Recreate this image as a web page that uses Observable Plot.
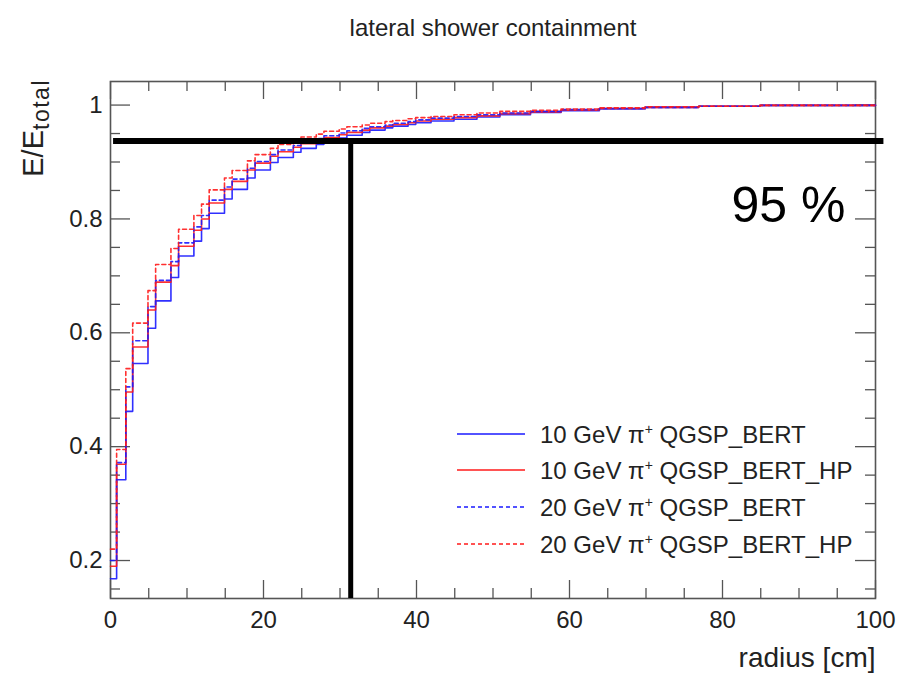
<!DOCTYPE html>
<html><head><meta charset="utf-8">
<script src="https://cdn.jsdelivr.net/npm/d3@7"></script>
<script src="https://cdn.jsdelivr.net/npm/@observablehq/plot@0.6"></script>
<style>
body{margin:0;background:#fff;}
#chart svg{display:block;font-family:"Liberation Sans",Arial,sans-serif;}
</style></head><body><div id="chart"></div>
<script>
// ---- data ----
const binEdges = [0, 0.8, 2, 2.9, 4.9, 5.9, 7.9, 8.9, 10.9, 11.9, 12.9, 14.9, 15.9, 17.9, 18.9, 20.9, 21.9, 23.9, 24.9, 26.9, 27.9, 29.9, 30.9, 32.9, 33.9, 35.9, 36.9, 38.9, 39.9, 41.9, 44.9, 47.9, 50.9, 54.9, 58.9, 63.9, 69.9, 76.9, 84.9, 100];
const bert10 = [0.168, 0.342, 0.462, 0.546, 0.608, 0.656, 0.697, 0.735, 0.761, 0.783, 0.810, 0.835, 0.852, 0.872, 0.886, 0.899, 0.908, 0.917, 0.924, 0.931, 0.937, 0.942, 0.947, 0.952, 0.956, 0.960, 0.963, 0.966, 0.969, 0.972, 0.975, 0.979, 0.983, 0.987, 0.990, 0.993, 0.996, 0.998, 0.9995];
const bertHP10 = [0.19, 0.369, 0.496, 0.575, 0.640, 0.689, 0.718, 0.752, 0.780, 0.800, 0.828, 0.852, 0.866, 0.886, 0.898, 0.910, 0.918, 0.926, 0.932, 0.938, 0.943, 0.948, 0.952, 0.956, 0.960, 0.963, 0.966, 0.969, 0.972, 0.975, 0.978, 0.981, 0.985, 0.988, 0.991, 0.994, 0.996, 0.998, 0.9995];
const bert20 = [0.20, 0.372, 0.505, 0.586, 0.646, 0.692, 0.725, 0.758, 0.786, 0.806, 0.833, 0.856, 0.870, 0.889, 0.901, 0.913, 0.921, 0.929, 0.935, 0.941, 0.946, 0.951, 0.955, 0.959, 0.962, 0.965, 0.968, 0.971, 0.974, 0.977, 0.980, 0.983, 0.986, 0.989, 0.992, 0.994, 0.996, 0.998, 0.9995];
const bertHP20 = [0.22, 0.395, 0.537, 0.617, 0.674, 0.720, 0.748, 0.782, 0.806, 0.826, 0.851, 0.872, 0.885, 0.902, 0.913, 0.924, 0.931, 0.938, 0.944, 0.949, 0.954, 0.958, 0.962, 0.965, 0.968, 0.971, 0.973, 0.976, 0.978, 0.980, 0.983, 0.986, 0.989, 0.991, 0.993, 0.995, 0.997, 0.998, 0.9995];
const energies = ["10 GeV", "10 GeV", "20 GeV", "20 GeV"];
const models = ["QGSP_BERT", "QGSP_BERT_HP", "QGSP_BERT", "QGSP_BERT_HP"];
const xMajor = [0, 20, 40, 60, 80, 100];
const xMinor = [5, 10, 15, 25, 30, 35, 45, 50, 55, 65, 70, 75, 85, 90, 95];
const yMajor = [0.2, 0.4, 0.6, 0.8, 1];
const yMinor = [0.15, 0.25, 0.3, 0.35, 0.45, 0.5, 0.55, 0.65, 0.7, 0.75, 0.85, 0.9, 0.95];
const containLevel = 0.937;
const containRadius = 31.4;
const containText = "95 %";
const titleText = "lateral shower containment";
const xLabel = "radius [cm]";
const yLabelMain = "E/E";
const yLabelSub = "total";

// ---- styles ----
const seriesVals = [bert10, bertHP10, bert20, bertHP20];
const colors = ["#1a1aff", "#ff1a1a", "#1a1aff", "#ff1a1a"];
const dashes = [null, null, "4,3", "4,3"];

const W = 900, H = 675, mT = 81, mR = 25, mB = 77, mL = 110;
const innerW = W - mL - mR, innerH = H - mT - mB;

function steps(vals) {
  const rows = vals.map((v, i) => ({x: binEdges[i], y: v}));
  rows.push({x: binEdges[binEdges.length - 1], y: vals[vals.length - 1]});
  return rows;
}

const tickCol = "#555";
const marks = [
  Plot.ruleX(xMajor, {x: d => d, insetTop: innerH - 18, stroke: tickCol, strokeWidth: 1.3}),
  Plot.ruleX(xMajor, {x: d => d, insetBottom: innerH - 18, stroke: tickCol, strokeWidth: 1.3}),
  Plot.ruleX(xMinor, {x: d => d, insetTop: innerH - 10, stroke: tickCol, strokeWidth: 1.3}),
  Plot.ruleX(xMinor, {x: d => d, insetBottom: innerH - 10, stroke: tickCol, strokeWidth: 1.3}),
  Plot.ruleY(yMajor, {y: d => d, insetRight: innerW - 20, stroke: tickCol, strokeWidth: 1.3}),
  Plot.ruleY(yMajor, {y: d => d, insetLeft: innerW - 20, stroke: tickCol, strokeWidth: 1.3}),
  Plot.ruleY(yMinor, {y: d => d, insetRight: innerW - 10, stroke: tickCol, strokeWidth: 1.3}),
  Plot.ruleY(yMinor, {y: d => d, insetLeft: innerW - 10, stroke: tickCol, strokeWidth: 1.3}),
  Plot.frame({stroke: tickCol, strokeWidth: 1.6}),
  Plot.axisX({ticks: xMajor, tickSize: 0, tickPadding: 12, fontSize: 24, tickFormat: d => String(d), label: null, fill: "#222"}),
  Plot.axisY({ticks: yMajor, tickSize: 0, tickPadding: 8, fontSize: 24, tickFormat: d => String(d), label: null, fill: "#222"}),
];
seriesVals.forEach((vals, i) => {
  marks.push(Plot.line(steps(vals), {x: "x", y: "y", curve: "step-after", stroke: colors[i], strokeWidth: 1.6, strokeDasharray: dashes[i], strokeOpacity: 0.9}));
});
marks.push(
  Plot.ruleY([containLevel], {y: d => d, x1: 0.4, x2: 101.1, stroke: "#000", strokeWidth: 6}),
  Plot.ruleX([containRadius], {x: d => d, y1: 0.1333, y2: containLevel, stroke: "#000", strokeWidth: 5}),
  Plot.text([containText], {text: d => d, frameAnchor: "top-right", textAnchor: "end", lineAnchor: "middle", dx: -30, dy: 124, fontSize: 50, fill: "#000"}),
  Plot.text([titleText], {text: d => d, frameAnchor: "top", lineAnchor: "middle", dy: -53, fontSize: 24, fill: "#222"}),
  Plot.text([xLabel], {text: d => d, frameAnchor: "bottom-right", textAnchor: "end", lineAnchor: "middle", dy: 60, fontSize: 28, fill: "#222"})
);

const svg = Plot.plot({
  width: W, height: H,
  marginTop: mT, marginRight: mR, marginBottom: mB, marginLeft: mL,
  x: {domain: [0, 100]},
  y: {domain: [0.1333, 1.0414]},
  marks
});
document.getElementById("chart").appendChild(svg);

// ---- y label with subscript ----
const s = d3.select(svg);
const yl = s.append("text")
  .attr("transform", "translate(43,79) rotate(-90)")
  .attr("text-anchor", "end")
  .attr("fill", "#222")
  .attr("font-size", 29);
yl.append("tspan").text(yLabelMain);
yl.append("tspan").attr("font-size", 23).attr("dy", 6).attr("letter-spacing", 1.5).text(yLabelSub);

// ---- legend ----
const lg = s.append("g").attr("text-anchor", "start");
const rowY = [434, 470, 507, 544];
energies.forEach((e, i) => {
  lg.append("line").attr("x1", 457).attr("x2", 525).attr("y1", rowY[i]).attr("y2", rowY[i])
    .attr("stroke", colors[i]).attr("stroke-width", 1.6)
    .attr("stroke-dasharray", dashes[i]);
  const t = lg.append("text").attr("x", 540).attr("y", rowY[i]).attr("dy", "0.36em")
    .attr("text-anchor", "start")
    .attr("font-size", 24).attr("fill", "#222");
  t.append("tspan").text(e + " π");
  t.append("tspan").attr("font-size", 14).attr("dy", -9).text("+");
  t.append("tspan").attr("dy", 9).text(" " + models[i]);
});
</script></body></html>
